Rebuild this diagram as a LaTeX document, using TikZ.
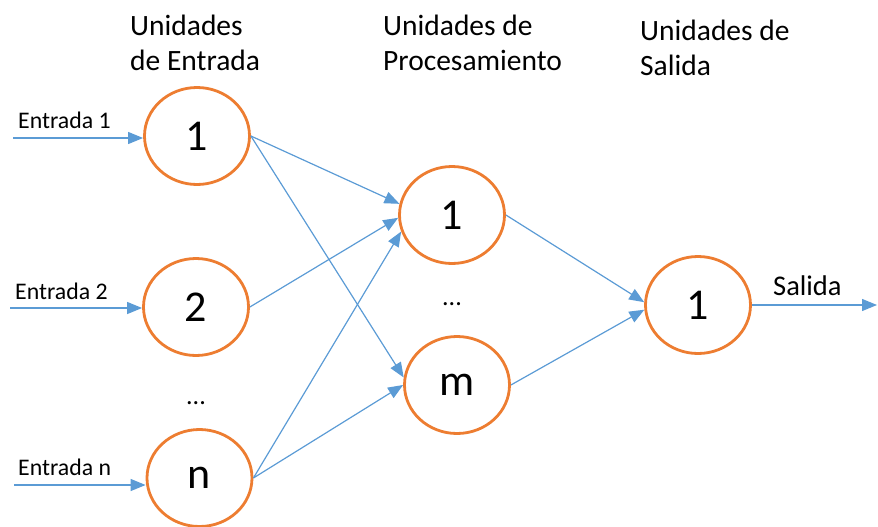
\documentclass[tikz,border=0pt]{standalone}
\usepackage{fontspec}
\setmainfont{Carlito}
\usetikzlibrary{shapes.geometric,arrows.meta}
\definecolor{orng}{HTML}{ED7D31}
\definecolor{blu}{HTML}{5B9BD5}
\tikzset{
  unit/.style={ellipse,draw=orng,line width=2.8pt,minimum width=105pt,minimum height=97pt,inner sep=0pt,font=\fontsize{44}{50}\selectfont},
  conn/.style={draw=blu,line width=1.2pt,-{Triangle[length=15pt,width=12pt]}},
  head/.style={anchor=north west,inner sep=0pt,align=left,font=\fontsize{29.5}{35}\selectfont},
  inlbl/.style={anchor=base west,inner sep=0pt,font=\fontsize{23.8}{27}\selectfont},
  dots/.style={inner sep=0pt,font=\fontsize{26}{30}\selectfont}
}
\begin{document}
\begin{tikzpicture}[x=1pt,y=-1pt]
\useasboundingbox (0,0) rectangle (878,527);
% headers
\node[head] (h1) at (130,15) {Unidades\\de Entrada};
\node[head] (h2) at (383,15) {Unidades de\\Procesamiento};
\node[head] (h3) at (640,20) {Unidades de\\Salida};
% units
\node[unit] (i1) at (197,136) {1};
\node[unit] (i2) at (196,307) {2};
\node[unit] (in) at (199.5,478) {n};
\node[unit] (p1) at (452,215) {1};
\node[unit] (pm) at (457,385) {m};
\node[unit] (o1) at (698,305) {1};
% dots
\node[dots] (d1) at (196,403) {...};
\node[dots] (d2) at (452,304) {...};
% input labels
\node[inlbl] (l1) at (18,128) {Entrada 1};
\node[inlbl] (l2) at (15,299) {Entrada 2};
\node[inlbl] (l3) at (18,475) {Entrada n};
\node[anchor=base west,inner sep=0pt,font=\fontsize{28.5}{32}\selectfont] (ls) at (773,295) {Salida};
% input coordinates
\coordinate (s1) at (13,138);
\coordinate (s2) at (10,308);
\coordinate (s3) at (14,485);
\coordinate (t0) at (877,305);
% input arrows
\draw[conn] (s1) -- (s1 -| i1.west);
\draw[conn] (s2) -- (s2 -| i2.west);
\draw[conn] (s3) -- (s3 -| in.west);
% hidden connections
\draw[conn] (i1.east) -- (p1.168);
\draw[conn] (i1.east) -- (pm.172);
\draw[conn] (i2.east) -- (p1.183);
\draw[conn] (in.east) -- (p1.198);
\draw[conn] (in.east) -- (pm.180);
\draw[conn] (p1.east) -- (o1.177);
\draw[conn] (pm.east) -- (o1.185);
% output
\draw[conn] (o1.east) -- (t0);
\end{tikzpicture}
\end{document}
